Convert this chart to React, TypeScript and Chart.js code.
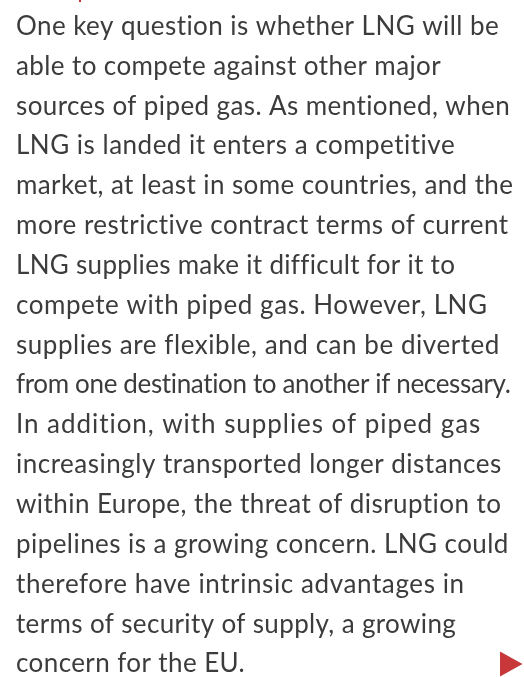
import React, { useEffect, useRef } from "react";
import { Chart, registerables } from "chart.js";
Chart.register(...registerables);

// Paragraph lines as they wrap in the reference
const LINES: string[] = [
  "One key question is whether LNG will be",
  "able to compete against other major",
  "sources of piped gas. As mentioned, when",
  "LNG is landed it enters a competitive",
  "market, at least in some countries, and the",
  "more restrictive contract terms of current",
  "LNG supplies make it difficult for it to",
  "compete with piped gas. However, LNG",
  "supplies are flexible, and can be diverted",
  "from one destination to another if necessary.",
  "In addition, with supplies of piped gas",
  "increasingly transported longer distances",
  "within Europe, the threat of disruption to",
  "pipelines is a growing concern. LNG could",
  "therefore have intrinsic advantages in",
  "terms of security of supply, a growing",
  "concern for the EU.",
];

// per-line tracking (px) as typeset in the reference
const TRACKING: number[] = [0.44, 0.4, 0.4, 0.5, 0.4, 0.5, 0.3, 0.55, 0.55, -0.35, 0.95, 0.5, 0.44, 0.44, 0.6, 0.36, 0.4];

const TEXT_COLOR = "#3c3c3c";
const ACCENT = "#c8373a";

export default function App() {
  const ref = useRef<HTMLCanvasElement>(null);
  useEffect(() => {
    document.body.style.margin = "0";
    const c = ref.current!;
    const chart = new Chart(c, {
      type: "scatter",
      data: { datasets: [] },
      options: {
        animation: false,
        responsive: false,
        layout: { padding: 0 },
        plugins: { legend: { display: false }, tooltip: { enabled: false } },
        scales: { x: { display: false }, y: { display: false } },
      },
      plugins: [
        {
          id: "paragraph",
          afterDraw(ch) {
            const g = ch.ctx as CanvasRenderingContext2D & { letterSpacing?: string };
            g.save();
            g.fillStyle = "#ffffff";
            g.fillRect(0, 0, ch.width, ch.height);
            g.font = '26px "Lato"';
            g.fillStyle = TEXT_COLOR;
            g.textBaseline = "alphabetic";
            LINES.forEach((line, i) => {
              g.letterSpacing = `${TRACKING[i]}px`;
              g.fillText(line, 16, 34.8 + i * 39.85);
            });
            g.letterSpacing = "0px";
            // small red fragment cut off at the top edge
            g.fillStyle = ACCENT;
            g.fillRect(79, 0, 2, 2);
            // red "continue" arrow at the bottom right
            g.beginPath();
            g.moveTo(500, 651.5);
            g.lineTo(522.5, 664);
            g.lineTo(500, 676.5);
            g.closePath();
            g.fill();
            g.restore();
          },
        },
      ],
    });
    return () => chart.destroy();
  }, []);
  return <canvas ref={ref} width={524} height={677} style={{ position: "fixed", left: 0, top: 0, display: "block" }} />;
}
